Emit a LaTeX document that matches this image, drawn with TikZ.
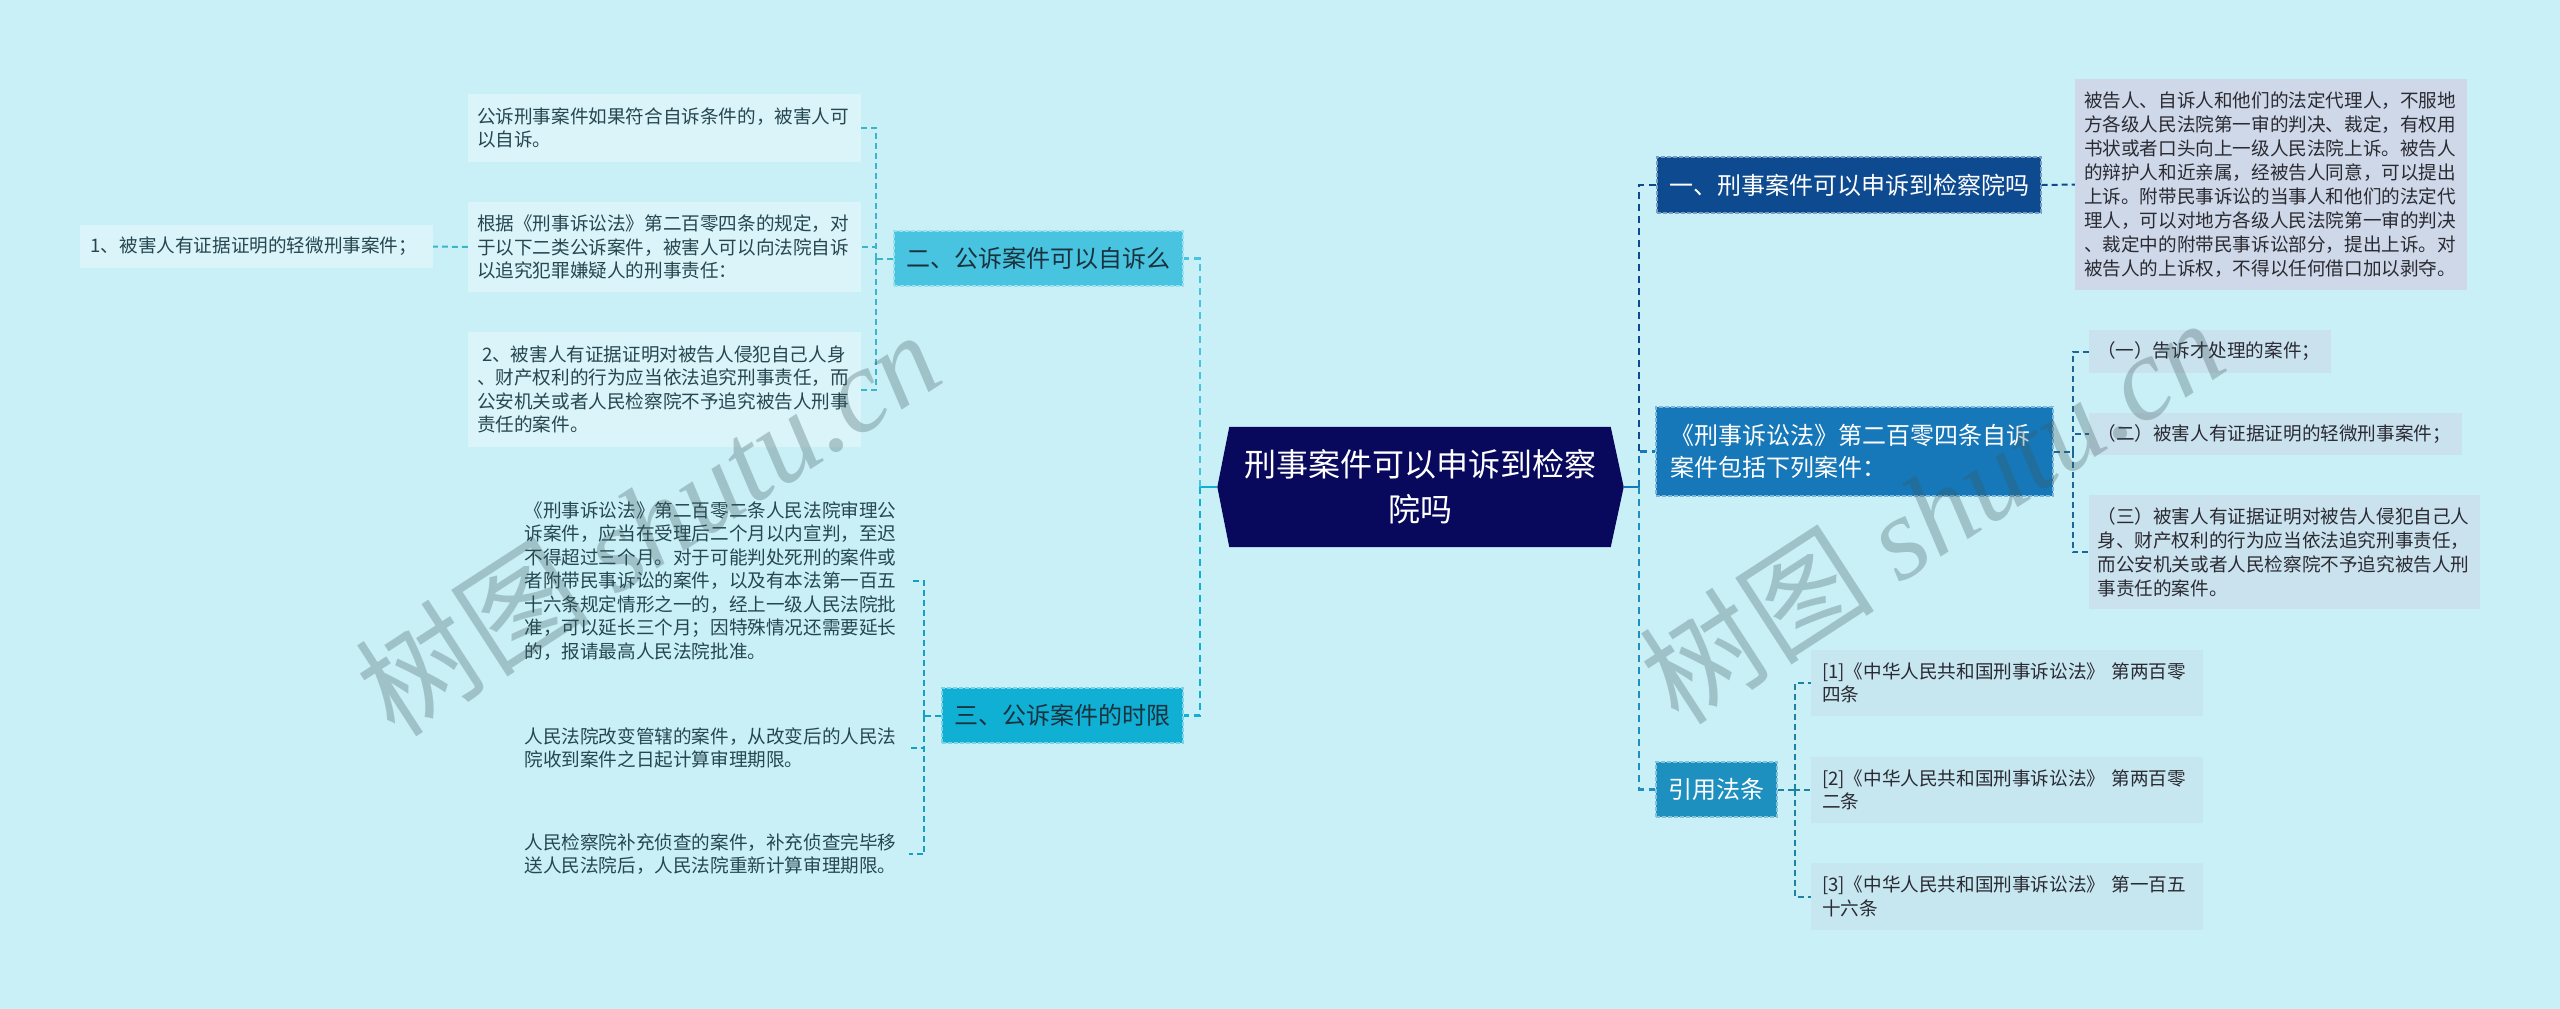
\documentclass[tikz,border=0pt]{standalone}
\usepackage{fontspec}
\setmainfont{Noto Sans CJK SC}
\newfontfamily\wmlatin{Liberation Serif}
\usetikzlibrary{backgrounds}

\definecolor{bgc}{RGB}{202,240,247}
\definecolor{rootc}{RGB}{8,8,92}
\definecolor{onec}{RGB}{14,74,144}
\definecolor{lawc}{RGB}{22,120,185}
\definecolor{citec}{RGB}{30,144,192}
\definecolor{twoc}{RGB}{72,196,224}
\definecolor{threec}{RGB}{16,175,212}
\definecolor{leaftwo}{RGB}{218,244,249}
\definecolor{leafone}{RGB}{206,216,232}
\definecolor{leaflaw}{RGB}{202,226,238}
\definecolor{leafcite}{RGB}{198,230,240}
\definecolor{topink}{RGB}{25,50,62}
\definecolor{inkL}{RGB}{38,70,80}
\definecolor{inkR}{RGB}{42,42,50}
\definecolor{twoln}{RGB}{60,180,202}
\definecolor{threeln}{RGB}{20,160,192}
\definecolor{lawln}{RGB}{30,100,150}
\definecolor{citeln}{RGB}{30,130,162}
\definecolor{wmc}{RGB}{60,90,95}

\tikzset{
  rootbox/.style={inner sep=0pt, text=white, align=center, minimum width=381pt, minimum height=120pt, text width=360pt, font=\fontsize{32}{45}\selectfont},
  topicbox/.style={fill=#1, draw=#1!55!white, dash pattern=on 4pt off 2pt, line width=1.4pt, inner sep=0pt, font=\fontsize{24}{32}\selectfont},
  leafbox/.style={fill=#1, inner sep=0pt, align=left, font=\fontsize{18.6}{23.5}\selectfont},
  link/.style={draw=#1, line width=2.6pt, dash pattern=on 7pt off 5pt},
  stub/.style={draw=#1, line width=2.6pt},
  sublink/.style={draw=#1, line width=2pt, dash pattern=on 6pt off 4pt},
  wmark/.style={text=wmc, text opacity=0.3, inner sep=0pt, font=\fontsize{118}{118}\selectfont}
}

\begin{document}
\begin{tikzpicture}[x=1pt,y=-1pt]
    \begin{scope}[on background layer]
    \fill[bgc] (0,0) rectangle (2560,1009);
    \end{scope}
    \useasboundingbox (0,0) rectangle (2560,1009);

    \node[rootbox] (root) at (1420,487) {刑事案件可以申诉到检察\\院吗};
    \begin{scope}[on background layer]
    \fill[rootc] (root.north west) -- (root.north east) -- ([xshift=13pt]root.east) -- (root.south east) -- (root.south west) -- ([xshift=-12pt]root.west) -- cycle;
    \end{scope}

    % right side
    \node[topicbox=onec, text=white, minimum width=384pt, minimum height=56pt] (one) at (1849,185) {一、刑事案件可以申诉到检察院吗};
    \node[topicbox=lawc, text=white, minimum width=397pt, minimum height=89pt, text width=369pt, align=left] (law) at (1854.5,451.5) {《刑事诉讼法》第二百零四条自诉\\案件包括下列案件：};
    \node[topicbox=citec, text=white, minimum width=121pt, minimum height=55pt] (cite) at (1716.5,789.5) {引用法条};

    \node[leafbox=leafone, text=inkR, minimum width=392pt, minimum height=211pt, text width=374pt, font=\fontsize{18.6}{24}\selectfont] (oneA) at (2271,184.5) {被告人、自诉人和他们的法定代理人，不服地\\方各级人民法院第一审的判决、裁定，有权用\\书状或者口头向上一级人民法院上诉。被告人\\的辩护人和近亲属，经被告人同意，可以提出\\上诉。附带民事诉讼的当事人和他们的法定代\\理人，可以对地方各级人民法院第一审的判决\\、裁定中的附带民事诉讼部分，提出上诉。对\\被告人的上诉权，不得以任何借口加以剥夺。};

    \node[leafbox=leaflaw, text=inkR, minimum width=242pt, minimum height=43pt, text width=226pt] (lawA) at (2210,351.5) {（一）告诉才处理的案件；};
    \node[leafbox=leaflaw, text=inkR, minimum width=373pt, minimum height=42pt, text width=356pt] (lawB) at (2275.5,434) {（二）被害人有证据证明的轻微刑事案件；};
    \node[leafbox=leaflaw, text=inkR, minimum width=391pt, minimum height=114pt, text width=374pt, font=\fontsize{18.6}{24}\selectfont] (lawC) at (2284.5,552) {（三）被害人有证据证明对被告人侵犯自己人\\身、财产权利的行为应当依法追究刑事责任，\\而公安机关或者人民检察院不予追究被告人刑\\事责任的案件。};

    \node[leafbox=leafcite, text=inkR, minimum width=392pt, minimum height=66pt, text width=370pt] (citeA) at (2007,683) {[1]《中华人民共和国刑事诉讼法》 第两百零\\四条};
    \node[leafbox=leafcite, text=inkR, minimum width=392pt, minimum height=66pt, text width=370pt] (citeB) at (2007,790) {[2]《中华人民共和国刑事诉讼法》 第两百零\\二条};
    \node[leafbox=leafcite, text=inkR, minimum width=392pt, minimum height=67pt, text width=370pt] (citeC) at (2007,896.5) {[3]《中华人民共和国刑事诉讼法》 第一百五\\十六条};

    % left side
    \node[topicbox=twoc, text=topink, minimum width=289pt, minimum height=55pt] (two) at (1038.5,258.5) {二、公诉案件可以自诉么};
    \node[topicbox=threec, text=topink, minimum width=241pt, minimum height=55pt] (three) at (1062.5,715.5) {三、公诉案件的时限};

    \node[leafbox=leaftwo, text=inkL, minimum width=393pt, minimum height=68pt, text width=375pt] (twoA) at (664.5,128) {公诉刑事案件如果符合自诉条件的，被害人可\\以自诉。};
    \node[leafbox=leaftwo, text=inkL, minimum width=393pt, minimum height=90pt, text width=375pt] (twoB) at (664.5,247) {根据《刑事诉讼法》第二百零四条的规定，对\\于以下二类公诉案件，被害人可以向法院自诉\\以追究犯罪嫌疑人的刑事责任：};
    \node[leafbox=leaftwo, text=inkL, minimum width=393pt, minimum height=115pt, text width=375pt] (twoC) at (664.5,389.5) {\hspace*{5pt}2、被害人有证据证明对被告人侵犯自己人身\\、财产权利的行为应当依法追究刑事责任，而\\公安机关或者人民检察院不予追究被告人刑事\\责任的案件。};
    \node[leafbox=leaftwo, text=inkL, minimum width=353pt, minimum height=43pt, text width=332pt] (twoBa) at (256.5,246.5) {1、被害人有证据证明的轻微刑事案件；};

    \node[leafbox=bgc, text=inkL, minimum width=394pt, minimum height=186pt, text width=375pt] (threeA) at (712,581) {《刑事诉讼法》第二百零二条人民法院审理公\\诉案件，应当在受理后二个月以内宣判，至迟\\不得超过三个月。对于可能判处死刑的案件或\\者附带民事诉讼的案件，以及有本法第一百五\\十六条规定情形之一的，经上一级人民法院批\\准，可以延长三个月；因特殊情况还需要延长\\的，报请最高人民法院批准。};
    \node[leafbox=bgc, text=inkL, minimum width=394pt, minimum height=66pt, text width=375pt] (threeB) at (712,748) {人民法院改变管辖的案件，从改变后的人民法\\院收到案件之日起计算审理期限。};
    \node[leafbox=bgc, text=inkL, minimum width=394pt, minimum height=66pt, text width=375pt] (threeC) at (712,854) {人民检察院补充侦查的案件，补充侦查完毕移\\送人民法院后，人民法院重新计算审理期限。};

    % connectors
    \coordinate (jL) at (1200,487);
    \coordinate (jR) at (1639,487);
    \draw[stub=threec] ([xshift=-12pt]root.west) -- (jL);
    \draw[stub=lawc] ([xshift=13pt]root.east) -- (jR);
    \draw[link=twoc] (jL) |- (two.east);
    \draw[link=threec] (jL) |- (three.east);
    \draw[link=onec] (jR) |- (one.west);
    \draw[link=lawc] (jR) |- (law.west);
    \draw[link=citec] (jR) |- (cite.west);

    \draw[sublink=onec] (one.east) -- (oneA.west);

    \coordinate (jLaw) at ([xshift=19pt]law.east);
    \draw[sublink=lawln] (law.east) -- (jLaw);
    \draw[sublink=lawln] (jLaw) |- (lawA.west);
    \draw[sublink=lawln] (jLaw) |- (lawB.west);
    \draw[sublink=lawln] (jLaw) |- (lawC.west);

    \coordinate (jCite) at ([xshift=17pt]cite.east);
    \draw[sublink=citeln] (cite.east) -- (jCite);
    \draw[sublink=citeln] (jCite) |- (citeA.west);
    \draw[sublink=citeln] (jCite) |- (citeB.west);
    \draw[sublink=citeln] (jCite) |- (citeC.west);

    \coordinate (jTwo) at ([xshift=-17pt]two.west);
    \draw[sublink=twoln] (two.west) -- (jTwo);
    \draw[sublink=twoln] (jTwo) |- (twoA.east);
    \draw[sublink=twoln] (jTwo) |- (twoB.east);
    \draw[sublink=twoln] (jTwo) |- (twoC.east);
    \draw[sublink=twoln] (twoB.west) -- (twoBa.east);

    \coordinate (jThree) at ([xshift=-17pt]three.west);
    \draw[sublink=threeln] (three.west) -- (jThree);
    \draw[sublink=threeln] (jThree) |- (threeA.east);
    \draw[sublink=threeln] (jThree) |- (threeB.east);
    \draw[sublink=threeln] (jThree) |- (threeC.east);

    % watermarks
    \node[wmark, rotate=33] (wmL) at (647,522) {树图 {\wmlatin\itshape shutu.cn}};
    \node[wmark, rotate=33] (wmR) at (1931,510) {树图 {\wmlatin\itshape shutu.cn}};
\end{tikzpicture}
\end{document}
